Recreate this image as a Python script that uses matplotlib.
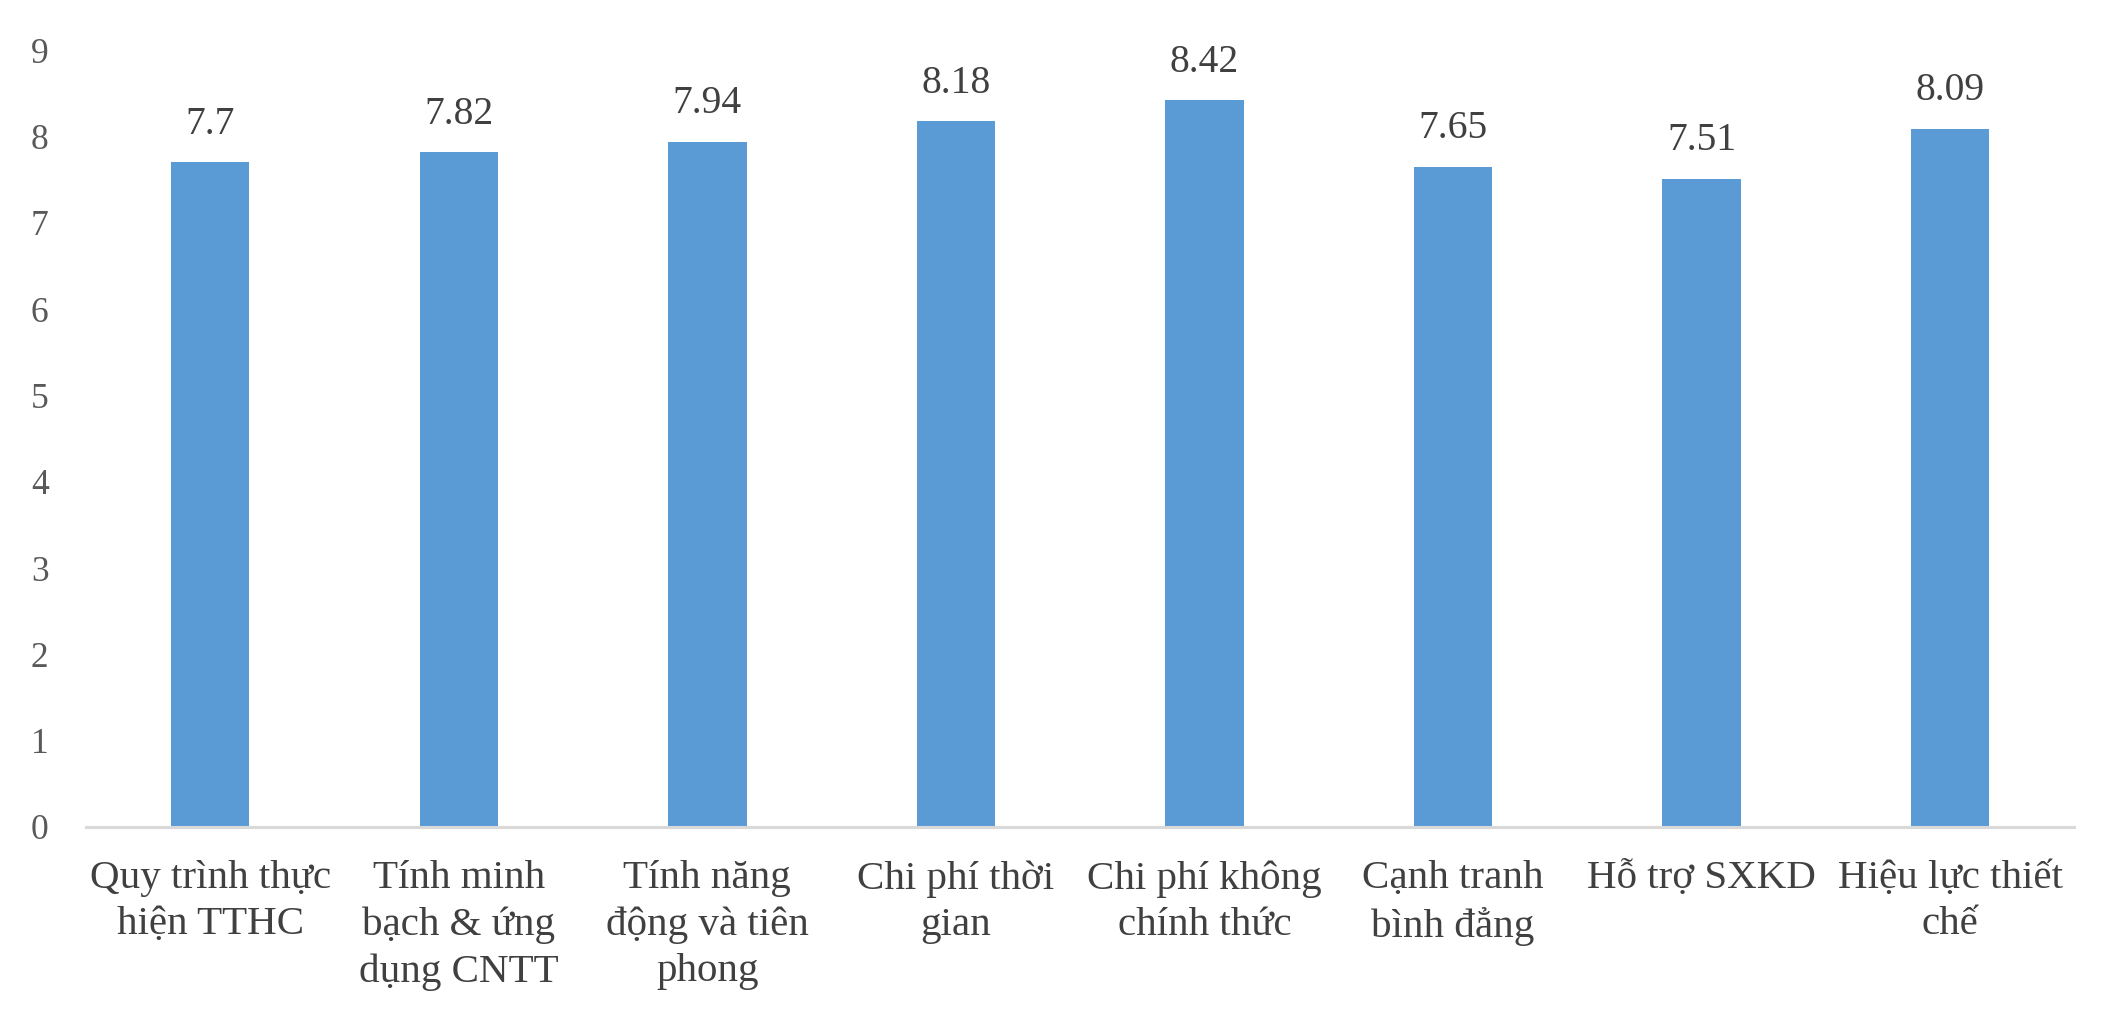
import matplotlib
matplotlib.use("Agg")
import matplotlib.pyplot as plt
import numpy as np

categories = [
    "Quy trình thực\nhiện TTHC",
    "Tính minh\nbạch & ứng\ndụng CNTT",
    "Tính năng\nđộng và tiên\nphong",
    "Chi phí thời\ngian",
    "Chi phí không\nchính thức",
    "Cạnh tranh\nbình đẳng",
    "Hỗ trợ SXKD",
    "Hiệu lực thiết\nchế",
]
values = [7.7, 7.82, 7.94, 8.18, 8.42, 7.65, 7.51, 8.09]
yticks = [0, 1, 2, 3, 4, 5, 6, 7, 8, 9]

plt.rcParams['font.family'] = ['Liberation Serif', 'DejaVu Serif']

fig = plt.figure(figsize=(21.24, 10.24), dpi=100)
ax = fig.add_axes([0.0405, 0.1924, 0.9361, 0.7586])

x = np.arange(len(categories))
bars = ax.bar(x, values, width=0.315, color='#5B9BD5', zorder=2)

for xi, v in zip(x, values):
    ax.annotate(f"{v:g}", (xi, v), xytext=(0, 14), textcoords='offset points',
                ha='center', va='bottom', fontsize=28.5, color='#404040')

ax.set_xlim(-0.5, len(categories) - 0.5)
ax.set_ylim(0, 9)
ax.set_yticks(yticks)
ax.set_yticklabels([str(t) for t in yticks])
ax.set_xticks(x)
ax.set_xticklabels(categories, fontsize=29.5, color='#404040', linespacing=1.32)

ax.tick_params(axis='y', length=0, labelsize=25.5, labelcolor='#595959', pad=27)
ax.tick_params(axis='x', length=0, pad=24)

for s in ['top', 'right', 'left']:
    ax.spines[s].set_visible(False)
ax.spines['bottom'].set_color('#D9D9D9')
ax.spines['bottom'].set_linewidth(2.2)

fig.savefig("out.png", dpi=100, facecolor='white')
